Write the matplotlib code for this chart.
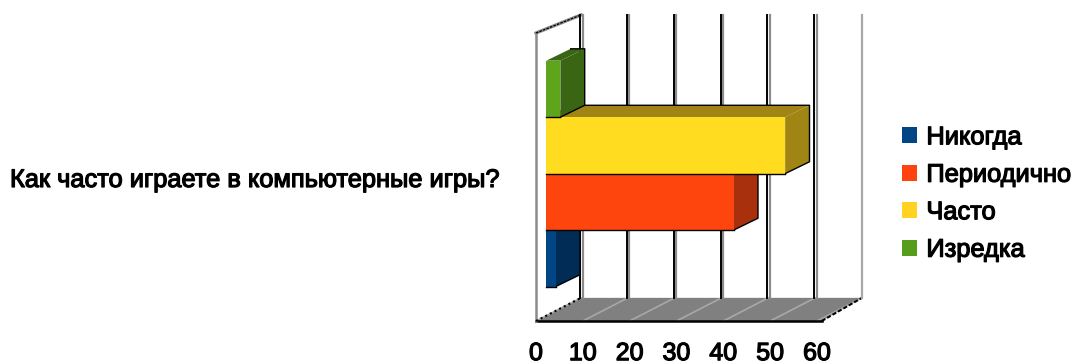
import matplotlib.pyplot as plt
import matplotlib.patheffects as pe
from matplotlib.patches import Patch, Polygon

plt.rcParams['font.family'] = ['Liberation Sans', 'DejaVu Sans']

# Data
question = 'Как часто играете в компьютерные игры?'
answers = ['Никогда', 'Периодично', 'Часто', 'Изредка']
values = [2, 40, 51, 3]
positions = [0, 1, 2, 3]
ticks = [0, 10, 20, 30, 40, 50, 60]

front_colors = ['#004586', '#ff450e', '#ffdc20', '#5fa51c']
side_colors = ['#002c55', '#a8300c', '#a08515', '#3a6614']
legend_colors = ['#004586', '#ff420e', '#ffd320', '#579d1c']

# 3d look, all in data units
wall_dx, wall_dy = 9.6, 0.41
bar_dx, bar_dy = 5.2, 0.21
bar_left = 2.2
y_min, y_max = -1.11, 3.99

fig = plt.figure(figsize=(10.73, 3.64), dpi=100)
ax = fig.add_axes([536/1073, 1 - 321/364, 281/1073, 288/364])
ax.set_xlim(0, 60)
ax.set_ylim(y_min, y_max)
for s in ax.spines.values():
    s.set_visible(False)
ax.set_yticks([])
ax.set_xticks(ticks)
ax.tick_params(axis='x', length=0, pad=14.5, labelsize=18)
heavy = [pe.withStroke(linewidth=0.9, foreground='black')]
for t in ax.get_xticklabels():
    t.set_path_effects(heavy)

back_bottom = y_min + wall_dy
back_top = 4.31

# floor
ax.add_patch(Polygon([(0, y_min), (61, y_min), (60 + wall_dx, back_bottom), (wall_dx, back_bottom)],
                     fc='#808080', ec='none', clip_on=False, zorder=1))
for v in ticks:
    ax.plot([v, v + wall_dx], [y_min, back_bottom], color='#a8a8a8', lw=1.2, clip_on=False, zorder=1.5)
ax.plot([0, 61], [y_min, y_min], color='black', lw=1.8, clip_on=False, zorder=2)
ax.plot([61, 60 + wall_dx], [y_min, back_bottom], color='black', lw=1.5, ls=(0, (2, 1)), clip_on=False, zorder=2)

# left wall
ax.plot([0, 0], [y_min, y_max], color='#8c8c8c', lw=1.8, clip_on=False, zorder=2)
ax.plot([0, wall_dx], [y_min, back_bottom], color='black', lw=1.5, ls=(0, (1, 1.5)), clip_on=False, zorder=2)
ax.plot([0, wall_dx], [y_max, back_top], color='#8c8c8c', lw=2.4, clip_on=False, zorder=2)
ax.plot([0, wall_dx], [y_max, back_top], color='black', lw=0.9, ls=(0, (2, 1)), clip_on=False, zorder=2)

# back wall lines
for v in ticks:
    x = v + wall_dx
    if v == 60:
        ax.plot([x, x], [back_bottom, back_top], color='#a8a8a8', lw=1.6, clip_on=False, zorder=2)
        continue
    ax.plot([x + 0.35, x + 0.35], [back_bottom, back_top], color='#8c8c8c', lw=1.6, clip_on=False, zorder=2)
    ax.plot([x - 0.2, x - 0.2], [back_bottom, back_top], color='black', lw=1.4, clip_on=False, zorder=2)

# bars, bottom one first so the upper ones sit over it
for i, (p, v) in enumerate(zip(positions, values)):
    z = 3 + i
    bottom, top, right = p - 0.5, p + 0.5, bar_left + v
    ax.add_patch(Polygon([(bar_left, top), (right, top), (right + bar_dx, top + bar_dy), (bar_left + bar_dx, top + bar_dy)],
                         fc=side_colors[i], ec='none', clip_on=False, zorder=z))
    ax.add_patch(Polygon([(right, bottom), (right + bar_dx, bottom + bar_dy), (right + bar_dx, top + bar_dy), (right, top)],
                         fc=side_colors[i], ec='none', clip_on=False, zorder=z))
    ax.plot([right, right + bar_dx, right + bar_dx, bar_left + bar_dx],
            [bottom, bottom + bar_dy, top + bar_dy, top + bar_dy],
            color='black', lw=1.0, clip_on=False, zorder=z)
    ax.barh(p, v, height=1, left=bar_left, color=front_colors[i], zorder=z + 0.1)
    ax.plot([bar_left, right], [bottom, bottom], color='black', lw=1.0, zorder=z + 0.2, clip_on=False)

# category label
fig.text(10/1073, 1 - 180/364, question, fontsize=18.3, va='center', ha='left', path_effects=heavy)

handles = [Patch(fc=c, ec='none') for c in legend_colors]
leg = fig.legend(handles, answers, loc='center left', bbox_to_anchor=(902/1073, 1 - 193.5/364),
                 frameon=False, fontsize=18.3, handlelength=0.6, handleheight=0.6,
                 handletextpad=0.36, labelspacing=0.53, borderpad=0, borderaxespad=0)
for t in leg.get_texts():
    t.set_path_effects(heavy)

fig.savefig('out.png', dpi=100)
